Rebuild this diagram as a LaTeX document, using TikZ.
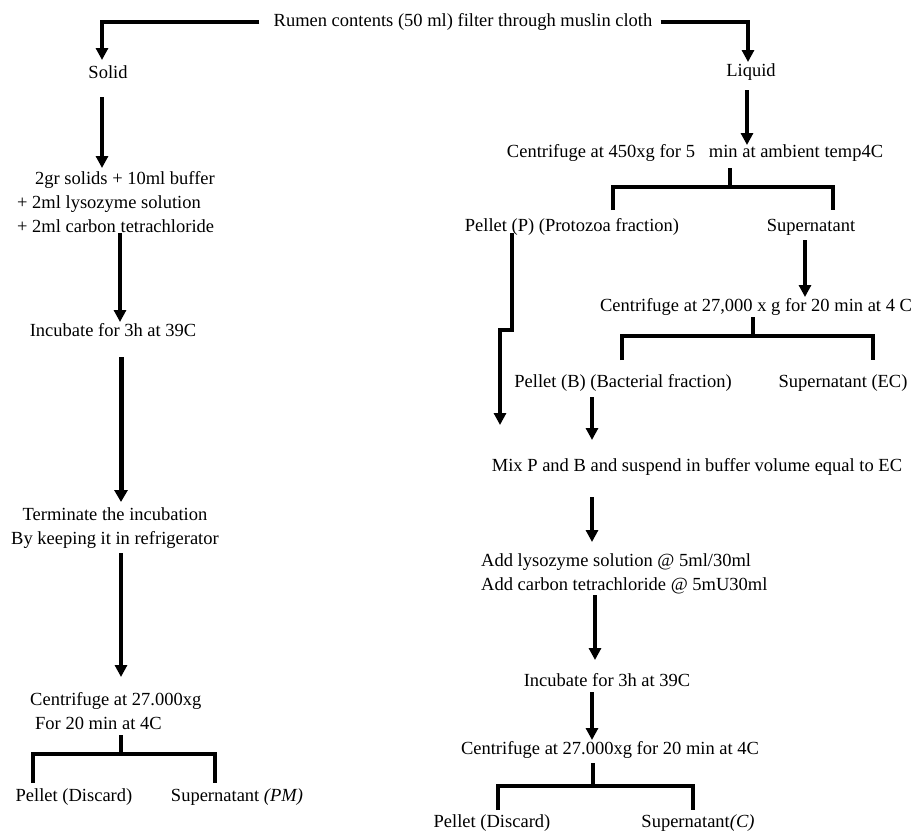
\documentclass[tikz,border=0pt]{standalone}
\usepackage{fontspec}
\setmainfont{Liberation Serif}
\usetikzlibrary{arrows.meta}
\begin{document}
\begin{tikzpicture}[x=1pt,y=-1pt,
  txt/.style={inner sep=0pt, font=\fontsize{18.5}{24}\selectfont},
  ln/.style={line width=3.2pt},
  arr/.style={line width=3.2pt,-{Triangle[width=12pt,length=12pt]}},
  tarr/.style={line width=5pt,-{Triangle[width=13pt,length=12pt]}}]
\fill[white] (0,0) rectangle (914,831);
\useasboundingbox (0,0) rectangle (914,831);
% nodes
\node[txt] (top) at (463,22) {Rumen contents (50 ml) filter through muslin cloth};
\node[txt] (solid) at (108,72) {Solid};
\node[txt] (liquid) at (751,72) {Liquid};
\node[txt,align=left,anchor=west] (s1) at (17,202) {\hspace*{18pt}2gr solids + 10ml buffer\\+ 2ml lysozyme solution\\+ 2ml carbon tetrachloride};
\node[txt] (inc1) at (113,330) {Incubate for 3h at 39C};
\node[txt,align=center] (term) at (115,528) {Terminate the incubation\\By keeping it in refrigerator};
\node[txt,align=left,anchor=west] (cent1) at (30,711) {Centrifuge at 27.000xg\\\hspace*{5pt}For 20 min at 4C};
\node[txt] (pd1) at (74,797) {Pellet (Discard)};
\node[txt] (sp1) at (237,797) {Supernatant \textit{(PM)}};
\node[txt] (c450) at (695,153) {Centrifuge at 450xg for 5\ \ \ min at ambient temp4C};
\node[txt] (pp) at (572,227) {Pellet (P) (Protozoa fraction)};
\node[txt] (sup) at (811,227) {Supernatant};
\node[txt] (c27) at (756,307) {Centrifuge at 27,000 x g for 20 min at 4 C};
\node[txt] (pb) at (623,383) {Pellet (B) (Bacterial fraction)};
\node[txt] (sec) at (843,383) {Supernatant (EC)};
\node[txt] (mix) at (697,467) {Mix P and B and suspend in buffer volume equal to EC};
\node[txt,align=left,anchor=west] (add) at (481,574) {Add lysozyme solution @ 5ml/30ml\\Add carbon tetrachloride @ 5mU30ml};
\node[txt] (inc2) at (607,680) {Incubate for 3h at 39C};
\node[txt] (c2) at (610,750) {Centrifuge at 27.000xg for 20 min at 4C};
\node[txt] (pd2) at (492,823) {Pellet (Discard)};
\node[txt] (sc) at (698,823) {Supernatant\textit{(C)}};
% top split
\draw[arr] ([xshift=-14pt]top.west) -| ([shift={(-6,-12)}]solid.center);
\draw[arr] ([xshift=8pt]top.east) -| ([shift={(-3,-10)}]liquid.center);
% left column
\draw[arr] ([shift={(-6,25)}]solid.center) -- ([shift={(85,-34)}]s1.west);
\draw[arr] ([shift={(103,31)}]s1.west) -- ([shift={(7,-8)}]inc1.center);
\draw[tarr] ([shift={(8,27)}]inc1.center) -- ([shift={(6,-26)}]term.center);
\draw[arr] ([shift={(6,25)}]term.center) -- ([shift={(91,-34)}]cent1.west);
\draw[ln] ([shift={(91,24)}]cent1.west) -- ++(0,21);
\draw[ln] ([shift={(-41,-14)}]pd1.center) -- ++(0,-29) -| ([shift={(-22,-14)}]sp1.center);
% right column
\draw[arr] ([shift={(-4,18)}]liquid.center) -- ([shift={(52,-8)}]c450.center);
\draw[ln] ([shift={(35,15)}]c450.center) -- ++(0,21);
\draw[ln] ([shift={(41,-17)}]pp.center) -- ++(0,-23) -| ([shift={(22,-17)}]sup.center);
\draw[arr] ([shift={(-60,6)}]pp.center) -- ++(0,97) -| ([shift={(-197,-42)}]mix.center);
\draw[arr] ([shift={(-6,13)}]sup.center) -- ([shift={(49,-10)}]c27.center);
\draw[ln] ([shift={(-3,10)}]c27.center) -- ++(0,21);
\draw[ln] ([shift={(-1,-23)}]pb.center) -- ++(0,-24) -| ([shift={(30,-23)}]sec.center);
\draw[arr] ([shift={(-31,14)}]pb.center) -- ([shift={(-105,-27)}]mix.center);
\draw[arr] ([shift={(-105,30)}]mix.center) -- ([shift={(111,-32)}]add.west);
\draw[arr] ([shift={(114,21)}]add.west) -- ([shift={(-12,-20)}]inc2.center);
\draw[arr] ([shift={(-15,12)}]inc2.center) -- ([shift={(-18,-10)}]c2.center);
\draw[ln] ([shift={(-17,13)}]c2.center) -- ++(0,25);
\draw[ln] ([shift={(6,-13)}]pd2.center) -- ++(0,-24) -| ([shift={(-5,-13)}]sc.center);
\end{tikzpicture}
\end{document}
